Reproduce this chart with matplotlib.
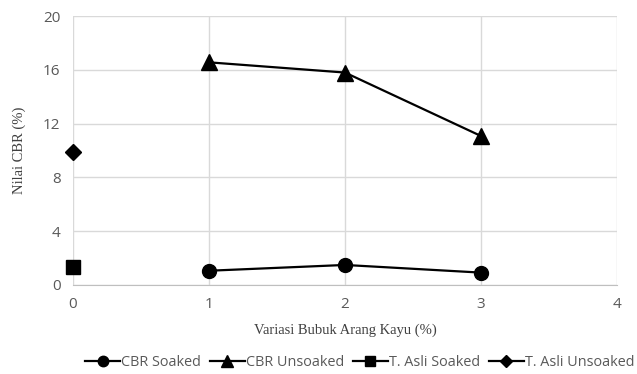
import matplotlib.pyplot as plt

# data
variasi = [1, 2, 3]
cbr_soaked = [1.06, 1.49, 0.92]
cbr_unsoaked = [16.56, 15.8, 11.08]
asli_x = [0]
asli_soaked = [1.36]
asli_unsoaked = [9.91]

x_ticks = [0, 1, 2, 3, 4]
y_ticks = [0, 4, 8, 12, 16, 20]

fig = plt.figure(figsize=(6.37, 3.74), dpi=100)
ax = fig.add_axes([0.1146, 0.238, 0.854, 0.719])

ax.plot(variasi, cbr_soaked, color='black', lw=1.6, marker='o', ms=10, label='CBR Soaked', clip_on=False, zorder=3)
ax.plot(variasi, cbr_unsoaked, color='black', lw=1.6, marker='^', ms=11, label='CBR Unsoaked', clip_on=False, zorder=3)
ax.plot(asli_x, asli_soaked, color='black', lw=1.6, marker='s', ms=10, label='T. Asli Soaked', clip_on=False, zorder=3)
ax.plot(asli_x, asli_unsoaked, color='black', lw=1.6, marker='D', ms=8, label='T. Asli Unsoaked', clip_on=False, zorder=3)

ax.set_xlim(0, 4)
ax.set_ylim(0, 20)
ax.set_xticks(x_ticks)
ax.set_yticks(y_ticks)
ax.grid(True, color='#d9d9d9', lw=1)
ax.set_axisbelow(True)
for side in ['top', 'right', 'left']:
    ax.spines[side].set_visible(False)
ax.spines['bottom'].set_color('#bfbfbf')
ax.tick_params(length=0, labelsize=11, labelcolor='#595959', pad=9)
for lab in ax.get_xticklabels() + ax.get_yticklabels():
    lab.set_family('Open Sans')

ax.set_xlabel('Variasi Bubuk Arang Kayu (%)', family='Liberation Serif', fontsize=10.5, color='#404040', labelpad=8)
ax.set_ylabel('Nilai CBR (%)', family='Liberation Serif', fontsize=10.5, color='#404040', labelpad=12)

# legend sits under the axis title, in figure coordinates
ax.legend(loc='center', bbox_to_anchor=(0.565, 0.031), bbox_transform=fig.transFigure,
          ncol=4, frameon=False, prop={'family': 'Open Sans', 'size': 10.4}, labelcolor='#595959',
          handlelength=2.4, handletextpad=0.1, columnspacing=0.6, markerscale=0.75,
          borderaxespad=0, borderpad=0)

fig.savefig('out.png', dpi=100)
